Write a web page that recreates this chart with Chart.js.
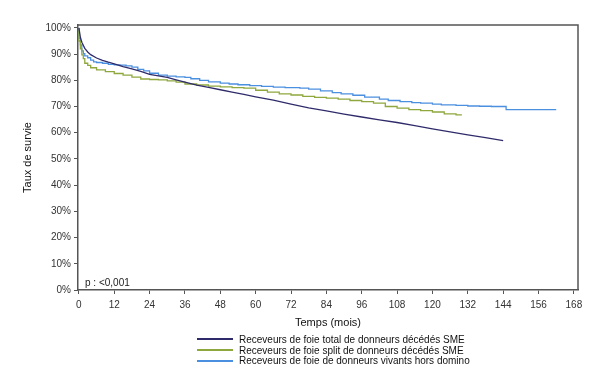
<!DOCTYPE html>
<html>
<head>
<meta charset="utf-8">
<script src="https://cdn.jsdelivr.net/npm/chart.js@4/dist/chart.umd.min.js"></script>
<style>
  body { margin: 0; background: #fff; font-family: "Liberation Sans", Arial, sans-serif; }
  #wrap { position: relative; width: 600px; height: 376px; }
  #legend { position: absolute; left: 197px; top: 335px; font-size: 10px; color: #111; }
  #legend div { height: 10.7px; line-height: 10.7px; white-space: nowrap; }
  #legend span.ln { display: inline-block; width: 36px; height: 2px; vertical-align: middle; margin-right: 6px; position: relative; top: -1px; }
</style>
</head>
<body>
<div id="wrap">
  <canvas id="kmChart" width="600" height="376"></canvas>
  <div id="legend"></div>
</div>
<script>

// categories
var seriesNames = [
	"Receveurs de foie total de donneurs décédés SME",
	"Receveurs de foie split de donneurs décédés SME",
	"Receveurs de foie de donneurs vivants hors domino"
];
var seriesColors = ["#2f2b6b", "#8fa83e", "#4b8fe0"];
// the big group has so many events that its curve looks smooth
var seriesStepped = [false, 'after', 'after'];

// total, donneurs décédés
var totalMonths = [0, 0.5, 1, 2, 3, 4, 6, 8, 10, 12, 15, 18, 21, 24, 27, 30, 33, 36, 40, 44, 48, 52, 56, 60, 66, 72, 78, 84, 90, 96, 102, 108, 114, 120, 126, 132, 138, 144];
var totalSurv = [100, 96.5, 94.5, 92.2, 90.8, 89.8, 88.5, 87.6, 86.9, 86.3, 85.2, 84.4, 83.4, 82.3, 81.7, 81.1, 80.2, 79.3, 78.2, 77.3, 76.4, 75.5, 74.6, 73.7, 72.4, 70.9, 69.5, 68.3, 67.1, 66.0, 64.9, 63.9, 62.7, 61.5, 60.3, 59.2, 58.1, 57.0];

// split, donneurs décédés
var splitMonths = [0, 0.5, 1, 1.5, 2, 3, 4, 6, 9, 12, 15, 18, 21, 24, 27, 30, 33, 36, 40, 44, 48, 52, 56, 60, 64, 68, 72, 76, 80, 84, 88, 92, 96, 100, 104, 108, 112, 116, 120, 124, 128, 130];
var splitSurv = [100, 95, 92, 89.7, 88.3, 86.5, 85.7, 84.8, 84, 83.3, 82.6, 82, 81.2, 80.5, 80.3, 80.2, 79.8, 79.3, 78.6, 78.2, 77.8, 77.5, 77.2, 77.0, 76.2, 75.5, 74.8, 74.4, 73.9, 73.5, 73.2, 72.8, 72.3, 71.9, 71.3, 70.0, 69.4, 68.8, 68.4, 67.9, 67.2, 66.8];

// donneurs vivants hors domino
var livingMonths = [0, 0.5, 1, 1.5, 2, 3, 4, 5, 6, 8, 10, 12, 14, 16, 18, 20, 22, 24, 27, 30, 33, 36, 38, 41, 44, 48, 51, 54, 58, 62, 66, 70, 75, 78, 82, 86, 89, 93, 97, 102, 105, 109, 113, 116, 120, 123, 128, 132, 136, 140, 145, 146.5, 162];
var livingSurv = [100, 96, 93.5, 91.2, 90.2, 89.3, 88.6, 87.7, 87.0, 86.8, 86.5, 86.1, 85.9, 85.8, 85.5, 85.0, 84.2, 83.6, 82.7, 82.0, 81.6, 81.3, 81.1, 80.6, 80.0, 79.4, 78.9, 78.6, 78.3, 78.0, 77.7, 77.4, 77.2, 77.0, 76.6, 76.0, 75.3, 74.8, 74.3, 73.6, 72.8, 72.3, 71.9, 71.5, 71.3, 70.9, 70.6, 70.4, 70.2, 70.1, 70.0, 68.8, 68.8];

// tick labels
var xTicks = [0, 12, 24, 36, 48, 60, 72, 84, 96, 108, 120, 132, 144, 156, 168];
var yTicks = [0, 10, 20, 30, 40, 50, 60, 70, 80, 90, 100];

var FONT = '"Liberation Sans", Arial, sans-serif';

function toPoints(months, surv) {
	var pts = [];
	for ( var i = 0; i < months.length; i++ ) {
		pts.push({ x: months[i], y: surv[i] });
	}
	return pts;
}

var allMonths = [totalMonths, splitMonths, livingMonths];
var allSurv = [totalSurv, splitSurv, livingSurv];

var datasets = [];
for ( var i = 0; i < seriesNames.length; i++ ) {
	datasets.push({
		label: seriesNames[i],
		data: toPoints(allMonths[i], allSurv[i]),
		borderColor: seriesColors[i],
		borderWidth: 1.3,
		stepped: seriesStepped[i],
		tension: 0,
		pointRadius: 0,
		fill: false
	});
}

// draws the box and the free texts
var extras = {
	id: 'extras',
	afterDraw: function(chart) {
		var ctx = chart.ctx;
		var a = chart.chartArea;
		ctx.save();
		ctx.strokeStyle = '#555';
		ctx.lineWidth = 1.5;
		ctx.beginPath();
		ctx.moveTo(a.left, a.top);
		ctx.lineTo(a.right, a.top);
		ctx.lineTo(a.right, a.bottom);
		ctx.stroke();

		ctx.fillStyle = '#111';
		ctx.font = '11px ' + FONT;
		ctx.textAlign = 'center';
		ctx.textBaseline = 'middle';
		ctx.fillText('Temps (mois)', (a.left + a.right) / 2, 323);

		ctx.translate(28, (a.top + a.bottom) / 2);
		ctx.rotate(-Math.PI / 2);
		ctx.fillText('Taux de survie', 0, 0);
		ctx.restore();

		ctx.save();
		ctx.fillStyle = '#222';
		ctx.font = '10px ' + FONT;
		ctx.textAlign = 'left';
		ctx.textBaseline = 'alphabetic';
		ctx.fillText('p : <0,001', 85, 286);
		ctx.restore();
	}
};

var ctx = document.getElementById('kmChart');

var kmChart = new Chart(ctx, {
	type: 'line',
	data: { datasets: datasets },
	plugins: [extras],
	options: {
		responsive: false,
		animation: false,
		layout: { padding: { left: 0, top: 25, right: 22, bottom: 0 } },
		plugins: {
			legend: { display: false },
			tooltip: { enabled: false }
		},
		scales: {
			x: {
				type: 'linear',
				min: -0.3,
				max: 169.4,
				afterFit: function(s) { s.height = 86; },
				afterBuildTicks: function(s) { s.ticks = xTicks.map(function(v) { return { value: v }; }); },
				grid: { drawOnChartArea: false, tickLength: 4, color: '#555' },
				border: { color: '#555', width: 1.5 },
				ticks: { padding: 5, color: '#333', font: { family: FONT, size: 10 }, maxRotation: 0 }
			},
			y: {
				min: 0,
				max: 101.1,
				afterFit: function(s) { s.width = 78; },
				afterBuildTicks: function(s) { s.ticks = yTicks.map(function(v) { return { value: v }; }); },
				grid: { drawOnChartArea: false, tickLength: 4, color: '#555' },
				border: { color: '#555', width: 1.5 },
				ticks: {
					padding: 3,
					color: '#333',
					font: { family: FONT, size: 10 },
					callback: function(v) { return v + '%'; }
				}
			}
		}
	}
});

var legend = document.getElementById('legend');
for ( var j = 0; j < seriesNames.length; j++ ) {
	var row = document.createElement('div');
	var ln = document.createElement('span');
	ln.className = 'ln';
	ln.style.background = seriesColors[j];
	row.appendChild(ln);
	row.appendChild(document.createTextNode(seriesNames[j]));
	legend.appendChild(row);
}

</script>
</body>
</html>
